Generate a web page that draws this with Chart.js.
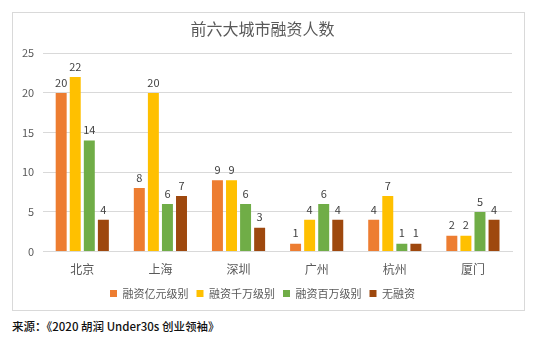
<!DOCTYPE html>
<html lang="zh-CN">
<head>
<meta charset="UTF-8">
<script src="https://cdn.jsdelivr.net/npm/chart.js"></script>
<title>前六大城市融资人数</title>
<style>
  body { margin: 0; background: #fff; width: 550px; height: 344px; position: relative; overflow: hidden; }
  .caixa { position: absolute; left: 12px; top: 12px; width: 511px; height: 297px; border: 1px solid #d9d9d9; }
  .fonte { position: absolute; left: 12px; top: 318px; font: 500 11.5px "Noto Sans CJK SC", sans-serif; color: #111; }
</style>
</head>
<body>
  <div class="caixa"><canvas id="grafico" width="511" height="297"></canvas></div>
  <div class="fonte">来源：《2020 胡润 Under30s 创业领袖》</div>

<script>
  const cidades = ['北京', '上海', '深圳', '广州', '杭州', '厦门'];
  const yiyuan = [20, 8, 9, 1, 4, 2];
  const qianwan = [22, 20, 9, 4, 7, 2];
  const baiwan = [14, 6, 6, 6, 1, 5];
  const wurongzi = [4, 7, 3, 4, 1, 4];
  const ticksY = [0, 5, 10, 15, 20, 25];

  const fonteCJK = '"Noto Sans CJK SC", sans-serif';

  // rótulos em cima das barras
  const rotulos = {
    id: 'rotulos',
    afterDatasetsDraw(chart) {
      const ctx = chart.ctx;
      ctx.save();
      ctx.fillStyle = '#404040';
      ctx.font = '11px ' + fonteCJK;
      ctx.textAlign = 'center';
      ctx.textBaseline = 'bottom';
      chart.data.datasets.forEach(function (ds, i) {
        chart.getDatasetMeta(i).data.forEach(function (bar, j) {
          ctx.fillText(ds.data[j], bar.x, bar.y - 5);
        });
      });
      ctx.restore();
    }
  };

  new Chart(document.getElementById('grafico'), {
    type: 'bar',
    data: {
      labels: cidades,
      datasets: [
        { label: '融资亿元级别', data: yiyuan, backgroundColor: '#ED7D31' },
        { label: '融资千万级别', data: qianwan, backgroundColor: '#FFC000' },
        { label: '融资百万级别', data: baiwan, backgroundColor: '#70AD47' },
        { label: '无融资', data: wurongzi, backgroundColor: '#9E480E' }
      ]
    },
    options: {
      responsive: false,
      animation: false,
      layout: { padding: { left: 0, right: 12, top: 4, bottom: 1 } },
      datasets: { bar: { categoryPercentage: 0.72, barPercentage: 0.78 } },
      plugins: {
        title: {
          display: true,
          text: '前六大城市融资人数',
          color: '#595959',
          font: { family: fonteCJK, size: 16, weight: 'normal' },
          padding: { top: 2, bottom: 15 }
        },
        legend: {
          position: 'bottom',
          labels: {
            boxWidth: 7, boxHeight: 7, padding: 8,
            color: '#595959',
            font: { family: fonteCJK, size: 11 }
          }
        },
        tooltip: { enabled: false }
      },
      scales: {
        x: {
          grid: { display: false },
          border: { display: true, color: '#d9d9d9' },
          ticks: { color: '#595959', padding: 3, font: { family: fonteCJK, size: 12 } }
        },
        y: {
          min: 0, max: 25,
          afterBuildTicks(axis) { axis.ticks = ticksY.map(v => ({ value: v })); },
          grid: { color: '#d9d9d9', drawTicks: false },
          border: { display: false },
          ticks: { color: '#595959', padding: 9, font: { family: fonteCJK, size: 11 } }
        }
      }
    },
    plugins: [rotulos]
  });
</script>
</body>
</html>
